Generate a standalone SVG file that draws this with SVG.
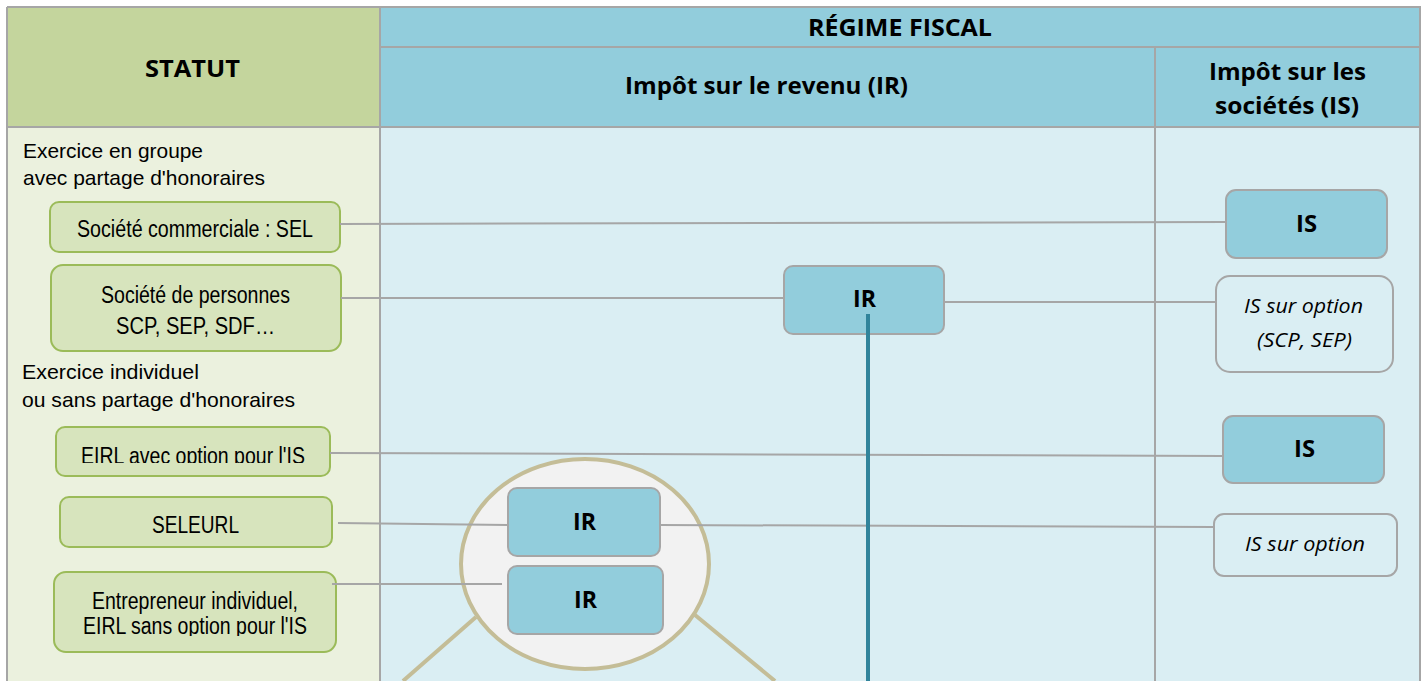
<svg xmlns="http://www.w3.org/2000/svg" width="1427" height="681" viewBox="0 0 1427 681">
<style>
.grid{stroke:#a6a6a6;stroke-width:2;fill:none}
.hdr{font-family:"Open Sans",Lato,sans-serif;font-weight:bold;font-size:23px;fill:#000;text-anchor:middle}
.sec{font-family:"Liberation Sans",Arial,sans-serif;font-size:21px;fill:#000}
.st{fill:#d7e4bd;stroke:#9bbb59;stroke-width:2}
.stt{font-family:"Liberation Sans",Arial,sans-serif;font-size:23px;fill:#000;text-anchor:middle}
.bx{fill:#92cddc;stroke:#a6a6a6;stroke-width:2}
.ob{fill:#daeef3;stroke:#a6a6a6;stroke-width:2}
.bt{font-family:"Open Sans",Lato,sans-serif;font-weight:bold;font-size:23px;fill:#000;text-anchor:middle}
.it{font-family:"Open Sans",Lato,sans-serif;font-style:italic;font-size:20px;fill:#000;text-anchor:middle}
.cn{stroke:#a6a6a6;stroke-width:2;fill:none}
</style>
<defs>
<clipPath id="c1"><rect x="50" y="420" width="290" height="43"/></clipPath>
<clipPath id="c2"><rect x="50" y="560" width="290" height="76"/></clipPath>
</defs>
<rect width="1427" height="681" fill="#ffffff"/>
<g id="table">
<rect x="7" y="7" width="373" height="120" fill="#c4d59d"/>
<rect x="380" y="7" width="1040" height="120" fill="#92cddc"/>
<rect x="7" y="127" width="373" height="560" fill="#ebf1de"/>
<rect x="380" y="127" width="1040" height="560" fill="#daeef3"/>
<path class="grid" d="M7 7H1420V690M7 7V690M380 7V690M380 47H1420M7 127H1420M1155 47V690"/>
<text class="hdr" x="192.5" y="77" textLength="95" lengthAdjust="spacingAndGlyphs">STATUT</text>
<text class="hdr" x="900" y="36" textLength="184" lengthAdjust="spacingAndGlyphs">RÉGIME FISCAL</text>
<text class="hdr" x="766.5" y="94" textLength="283" lengthAdjust="spacingAndGlyphs">Impôt sur le revenu (IR)</text>
<text class="hdr" x="1287.5" y="80" textLength="157" lengthAdjust="spacingAndGlyphs">Impôt sur les</text>
<text class="hdr" x="1287" y="114" textLength="144" lengthAdjust="spacingAndGlyphs">sociétés (IS)</text>
<text class="sec" x="23" y="158" textLength="180" lengthAdjust="spacingAndGlyphs">Exercice en groupe</text>
<text class="sec" x="23" y="185" textLength="242" lengthAdjust="spacingAndGlyphs">avec partage d'honoraires</text>
<text class="sec" x="22" y="379" textLength="177" lengthAdjust="spacingAndGlyphs">Exercice individuel</text>
<text class="sec" x="22" y="407" textLength="273" lengthAdjust="spacingAndGlyphs">ou sans partage d'honoraires</text>
</g>
<g id="zoom-circle">
<path d="M476 617L403 681M695 615L775 681" stroke="#c4bd97" stroke-width="4"/>
<ellipse cx="585" cy="564" rx="124" ry="105" fill="#f2f2f2" stroke="#c4bd97" stroke-width="4"/>
</g>
<g id="n-sel"><rect class="st" x="50" y="202" width="290" height="50" rx="9"/><text class="stt" x="195" y="237" textLength="236" lengthAdjust="spacingAndGlyphs">Société commerciale : SEL</text></g>
<g id="n-sp"><rect class="st" x="51" y="265" width="290" height="86" rx="12"/><text class="stt" x="195.5" y="303" textLength="189" lengthAdjust="spacingAndGlyphs">Société de personnes</text><text class="stt" x="195.5" y="334" textLength="159" lengthAdjust="spacingAndGlyphs">SCP, SEP, SDF…</text></g>
<g id="n-eirl-is"><rect class="st" x="56" y="427" width="274" height="49" rx="9"/><text class="stt" x="193" y="464" textLength="224" lengthAdjust="spacingAndGlyphs" clip-path="url(#c1)">EIRL avec option pour l'IS</text></g>
<g id="n-seleurl"><rect class="st" x="60" y="497" width="272" height="50" rx="9"/><text class="stt" x="195.5" y="533" textLength="87" lengthAdjust="spacingAndGlyphs">SELEURL</text></g>
<g id="n-ei"><rect class="st" x="54" y="572" width="282" height="80" rx="12"/><text class="stt" x="195" y="609" textLength="206" lengthAdjust="spacingAndGlyphs">Entrepreneur individuel,</text><text class="stt" x="195" y="634" textLength="224" lengthAdjust="spacingAndGlyphs" clip-path="url(#c2)">EIRL sans option pour l'IS</text></g>
<g id="n-ir-main"><rect class="bx" x="784" y="266" width="160" height="68" rx="9"/><text class="bt" x="864.5" y="307" textLength="23" lengthAdjust="spacingAndGlyphs">IR</text></g>
<g id="n-ir-1"><rect class="bx" x="508" y="488" width="152" height="68" rx="9"/><text class="bt" x="584.5" y="530" textLength="23" lengthAdjust="spacingAndGlyphs">IR</text></g>
<g id="n-ir-2"><rect class="bx" x="508" y="566" width="155" height="68" rx="9"/><text class="bt" x="585.5" y="608" textLength="23" lengthAdjust="spacingAndGlyphs">IR</text></g>
<g id="n-is-1"><rect class="bx" x="1226" y="190" width="161" height="68" rx="10"/><text class="bt" x="1306.5" y="232" textLength="21" lengthAdjust="spacingAndGlyphs">IS</text></g>
<g id="n-iso-1"><rect class="ob" x="1216" y="276" width="177" height="96" rx="14"/><text class="it" x="1303.5" y="313" textLength="119" lengthAdjust="spacingAndGlyphs">IS sur option</text><text class="it" x="1304.5" y="347" textLength="95" lengthAdjust="spacingAndGlyphs">(SCP, SEP)</text></g>
<g id="n-is-2"><rect class="bx" x="1223" y="416" width="161" height="67" rx="10"/><text class="bt" x="1304.5" y="457" textLength="21" lengthAdjust="spacingAndGlyphs">IS</text></g>
<g id="n-iso-2"><rect class="ob" x="1214" y="514" width="183" height="62" rx="10"/><text class="it" x="1305" y="551" textLength="120" lengthAdjust="spacingAndGlyphs">IS sur option</text></g>
<g id="connectors">
<path class="cn" d="M340 224L1226 222"/>
<path class="cn" d="M341 298H784"/>
<path class="cn" d="M944 302H1216"/>
<path class="cn" d="M330 453L1223 456"/>
<path class="cn" d="M338 523L508 525"/>
<path class="cn" d="M660 525L1214 527"/>
<path class="cn" d="M332 584H502"/>
<path d="M868 314V681" stroke="#31849b" stroke-width="4"/>
</g>
</svg>
